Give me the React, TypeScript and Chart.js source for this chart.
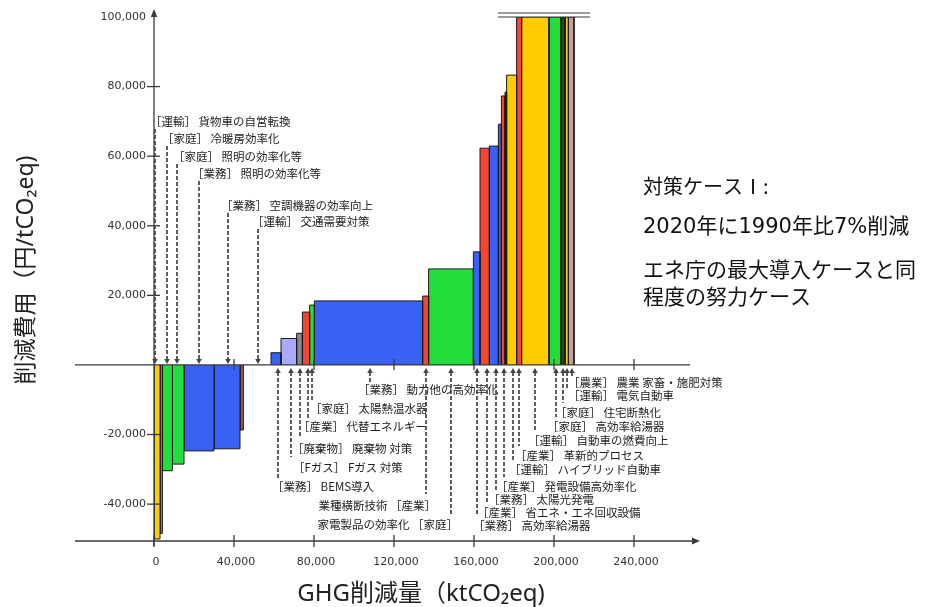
import React, { useEffect, useRef } from "react";
import { Chart, registerables } from "chart.js";

Chart.register(...registerables);

// ---- Data (GHG abatement in ktCO2eq, cost in yen/tCO2eq) ----
const measureStart = [0, 3000, 4200, 9200, 15000, 30000, 43000, 58500, 63500, 71300, 74200, 77800, 80200, 134300, 137300, 159700, 163000, 167700, 172200, 173700, 175500, 176300, 181300, 183800, 197500, 203500, 205500, 207200];
const measureEnd = [3000, 4200, 9200, 15000, 30000, 43000, 44700, 63500, 71300, 74200, 77800, 80200, 134300, 137300, 159700, 163000, 167700, 172200, 173700, 175500, 176300, 181300, 183800, 197500, 203500, 205500, 207200, 210000];
const measureCost = [-50000, -48400, -30400, -28500, -24700, -24100, -18700, 3500, 7600, 9100, 15200, 17200, 18400, 19800, 27600, 32500, 62300, 62900, 69200, 77300, 78400, 83300, 100000, 100000, 100000, 100000, 100000, 100000];

const xTickValues = [0, 40000, 80000, 120000, 160000, 200000, 240000];
const xTickLabels = ["0", "40,000", "80,000", "120,000", "160,000", "200,000", "240,000"];
const yTickValues = [100000, 80000, 60000, 40000, 20000, -20000, -40000];
const yTickLabels = ["100,000", "80,000", "60,000", "40,000", "20,000", "-20,000", "-40,000"];

const upperLabels = [
  "［運輸］ 貨物車の自営転換",
  "［家庭］ 冷暖房効率化",
  "［家庭］ 照明の効率化等",
  "［業務］ 照明の効率化等",
  "［業務］ 空調機器の効率向上",
  "［運輸］ 交通需要対策",
];
const upperTargets = [500, 6500, 11500, 22500, 37000, 52000];

const lowerLabels = [
  "［業務］ BEMS導入",
  "［Fガス］ Fガス 対策",
  "［廃棄物］ 廃棄物 対策",
  "［産業］ 代替エネルギー",
  "［家庭］ 太陽熱温水器",
  "［業務］ 動力他の高効率化",
  "業種横断技術 ［産業］",
  "家電製品の効率化 ［家庭］",
  "［業務］ 高効率給湯器",
  "［産業］ 省エネ・エネ回収設備",
  "［業務］ 太陽光発電",
  "［産業］ 発電設備高効率化",
  "［運輸］ ハイブリッド自動車",
  "［産業］ 革新的プロセス",
  "［運輸］ 自動車の燃費向上",
  "［家庭］ 高効率給湯器",
  "［家庭］ 住宅断熱化",
  "［運輸］ 電気自動車",
  "［農業］ 農業 家畜・施肥対策",
];
const lowerTargets = [62000, 68500, 73000, 77000, 79000, 108000, 136000, 148500, 161500, 166500, 171000, 175000, 179500, 182500, 190500, 201000, 204500, 206500, 209000];

const noteLines = ["対策ケースⅠ:", "2020年に1990年比7%削減", "エネ庁の最大導入ケースと同", "程度の努力ケース"];
const yTitle = "削減費用（円/tCO₂eq)";
const xTitle = "GHG削減量（ktCO₂eq)";

// ---- Styles / layout (kept apart from data) ----
const YEL = "#FFCC00", OLV = "#B08C00", GRN = "#22DD3C", BLU = "#3862F5", RED = "#F5452F", LAV = "#A9A9FF", GRY = "#8A8A8A", DKG = "#1E4D1E", PNK = "#C9A19B", RBR = "#B0503C";
const measureColor = [YEL, OLV, GRN, GRN, BLU, BLU, RBR, BLU, LAV, GRY, RED, GRN, BLU, RED, GRN, BLU, RED, BLU, BLU, RED, DKG, YEL, RED, YEL, GRN, DKG, YEL, PNK];

const upperLayout = [
  { dx: 0, ty: 122 },
  { dx: 0, ty: 139 },
  { dx: 1, ty: 157 },
  { dx: -2, ty: 174 },
  { dx: -2, ty: 206 },
  { dx: -1, ty: 222 },
];
const lowerLayout = [
  { dx: -1, ty: 487, end: 479, right: false },
  { dx: 7, ty: 468, end: 457, right: false },
  { dx: -3, ty: 449, end: 438, right: false },
  { dx: -5, ty: 427, end: 418, right: false },
  { dx: 3, ty: 409, end: 400, right: false },
  { dx: -7, ty: 390, end: 383, right: false },
  { dx: 10, ty: 506, end: 494, right: true },
  { dx: 7, ty: 525, end: 515, right: true },
  { dx: 1, ty: 526, end: 516, right: false },
  { dx: -5, ty: 513, end: 503, right: false },
  { dx: -3, ty: 500, end: 490, right: false },
  { dx: -3, ty: 487, end: 477, right: false },
  { dx: 1, ty: 470, end: 460, right: false },
  { dx: 1, ty: 456, end: 446, right: false },
  { dx: -2, ty: 441, end: 431, right: false },
  { dx: -4, ty: 427, end: 417, right: false },
  { dx: -3, ty: 413, end: 403, right: false },
  { dx: 6, ty: 396, end: 389, right: false },
  { dx: 1, ty: 383, end: 377, right: false },
];

const ANN_FONT = '11.5px "Noto Sans CJK JP"';
const TICK_FONT = '11px "DejaVu Sans"';

const decorPlugin = {
  id: "macDecor",
  afterDraw(chart: any) {
    const ctx: CanvasRenderingContext2D = chart.ctx;
    const xs = chart.scales.x;
    const ys = chart.scales.y;
    const X = (v: number) => xs.getPixelForValue(v);
    const Y = (v: number) => ys.getPixelForValue(v);
    const x0 = X(0);
    const y0 = Y(0);
    const yb = ys.bottom;
    const ytop = Y(100000);

    const seg = (a: number, b: number, c: number, d: number) => {
      ctx.beginPath();
      ctx.moveTo(a, b);
      ctx.lineTo(c, d);
      ctx.stroke();
    };

    ctx.save();
    ctx.strokeStyle = "#3a3a3a";
    ctx.fillStyle = "#3a3a3a";
    ctx.lineWidth = 1.3;

    // zero line and bottom axis
    seg(X(-39500), y0, X(268000), y0);
    seg(X(-39500), yb, X(271500), yb);
    // x-axis arrow
    const xa = X(273000);
    ctx.beginPath();
    ctx.moveTo(xa, yb);
    ctx.lineTo(xa - 8, yb - 3.5);
    ctx.lineTo(xa - 8, yb + 3.5);
    ctx.closePath();
    ctx.fill();
    // y axis
    seg(x0, yb + 5, x0, ytop - 3);
    ctx.beginPath();
    ctx.moveTo(x0, ytop - 8);
    ctx.lineTo(x0 - 3.2, ytop);
    ctx.lineTo(x0 + 3.2, ytop);
    ctx.closePath();
    ctx.fill();

    // x ticks (bottom and zero line)
    xTickValues.forEach((v) => {
      seg(X(v), yb - 6, X(v), yb + 6);
      if (v > 0) seg(X(v), y0 - 6, X(v), y0 + 5);
    });
    // y ticks
    yTickValues.forEach((v) => {
      if (v < 100000) seg(x0 - 7, Y(v), x0 + 6, Y(v));
    });

    // break marker for off-scale bars
    ctx.lineWidth = 1.2;
    seg(X(172000), ytop - 4, X(218000), ytop - 4);
    seg(X(172000), ytop, X(218000), ytop);

    // tick labels
    ctx.fillStyle = "#333";
    ctx.font = TICK_FONT;
    ctx.textBaseline = "middle";
    ctx.textAlign = "center";
    xTickValues.forEach((v, i) => ctx.fillText(xTickLabels[i], X(v) + 2, yb + 21));
    ctx.textAlign = "right";
    yTickValues.forEach((v, i) => ctx.fillText(yTickLabels[i], x0 - 8, Y(v)));

    // annotations
    ctx.font = ANN_FONT;
    ctx.strokeStyle = "#444";
    ctx.fillStyle = "#444";
    ctx.lineWidth = 1.7;
    const bracketShift = (t: string) => (t.startsWith("［") ? 5 : 0);

    upperLabels.forEach((t, i) => {
      const ax = X(upperTargets[i]);
      const L = upperLayout[i];
      ctx.setLineDash([4, 2]);
      seg(ax, L.ty + 7, ax, y0 - 6);
      ctx.setLineDash([]);
      ctx.beginPath();
      ctx.moveTo(ax - 2.8, y0 - 6);
      ctx.lineTo(ax + 2.8, y0 - 6);
      ctx.lineTo(ax, y0 - 1);
      ctx.closePath();
      ctx.fill();
      ctx.fillStyle = "#222";
      ctx.textAlign = "left";
      ctx.fillText(t, ax + L.dx - bracketShift(t), L.ty);
      ctx.fillStyle = "#444";
    });

    lowerLabels.forEach((t, i) => {
      const ax = X(lowerTargets[i]);
      const L = lowerLayout[i];
      ctx.setLineDash([4, 2]);
      seg(ax, y0 + 7, ax, L.end);
      ctx.setLineDash([]);
      ctx.beginPath();
      ctx.moveTo(ax - 2.8, y0 + 8);
      ctx.lineTo(ax + 2.8, y0 + 8);
      ctx.lineTo(ax, y0 + 3);
      ctx.closePath();
      ctx.fill();
      ctx.fillStyle = "#222";
      if (L.right) {
        ctx.textAlign = "right";
        ctx.fillText(t, ax + L.dx, L.ty);
      } else {
        ctx.textAlign = "left";
        ctx.fillText(t, ax + L.dx - bracketShift(t), L.ty);
      }
      ctx.fillStyle = "#444";
    });

    // axis titles
    ctx.fillStyle = "#222";
    ctx.textAlign = "center";
    ctx.textBaseline = "middle";
    ctx.font = '24px "Noto Sans", "Noto Sans CJK JP"';
    ctx.fillText(xTitle, 421, 594);
    ctx.font = '23px "Noto Sans", "Noto Sans CJK JP"';
    ctx.save();
    ctx.translate(26, 270);
    ctx.rotate(-Math.PI / 2);
    ctx.fillText(yTitle, 0, 0);
    ctx.restore();

    // case note
    ctx.fillStyle = "#111";
    ctx.textAlign = "left";
    const noteY = [186, 228, 272, 299];
    noteLines.forEach((t, i) => {
      ctx.font = i === 0 ? '20px "Noto Sans CJK JP"' : '21px "DejaVu Sans", "Noto Sans CJK JP"';
      ctx.fillText(t, 643, noteY[i]);
    });

    ctx.restore();
  },
};

export default function App() {
  const ref = useRef<HTMLCanvasElement | null>(null);

  useEffect(() => {
    if (!ref.current) return;
    const datasets = measureCost.map((c, i) => ({
      data: [
        { x: measureStart[i], y: 0 },
        { x: measureStart[i], y: c },
        { x: measureEnd[i], y: c },
        { x: measureEnd[i], y: 0 },
      ],
      backgroundColor: measureColor[i],
      borderColor: "#1a1a1a",
      borderWidth: 1,
      fill: "origin",
      pointRadius: 0,
      pointHoverRadius: 0,
      tension: 0,
    }));
    const chart = new Chart(ref.current, {
      type: "line",
      data: { datasets: datasets as any },
      options: {
        animation: false,
        responsive: false,
        maintainAspectRatio: false,
        devicePixelRatio: 1,
        layout: { padding: { left: 154, right: 225, top: 17, bottom: 66 } },
        scales: {
          x: { type: "linear", min: 0, max: 273000, display: false },
          y: { type: "linear", min: -50600, max: 100000, display: false },
        },
        plugins: {
          legend: { display: false },
          tooltip: { enabled: false },
        },
        events: [],
      },
      plugins: [decorPlugin],
    });
    return () => chart.destroy();
  }, []);

  return (
    <div style={{ position: "absolute", left: 0, top: 0, width: 925, height: 607, background: "#fff" }}>
      <canvas ref={ref} width={925} height={607} style={{ width: 925, height: 607, display: "block" }} />
    </div>
  );
}
